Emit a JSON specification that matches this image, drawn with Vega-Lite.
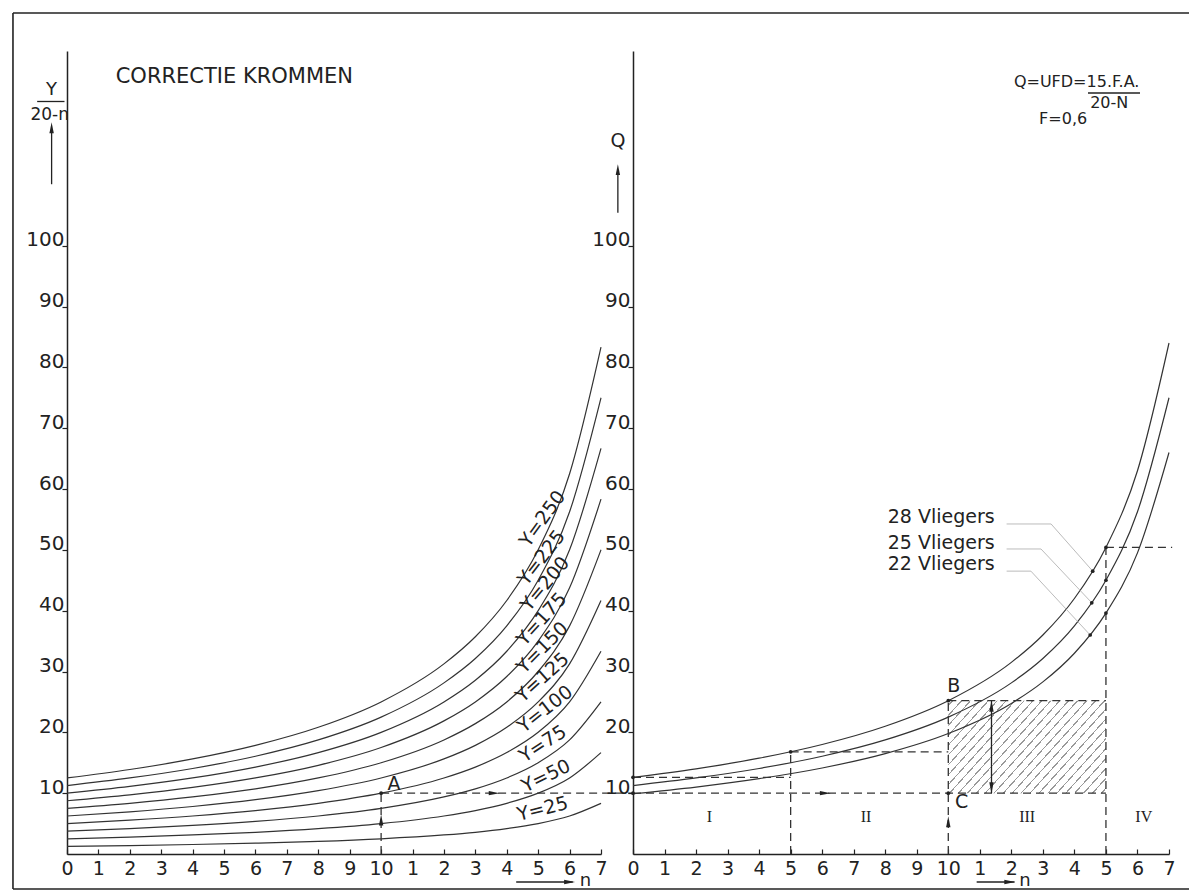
{
"$schema": "https://vega.github.io/schema/vega-lite/v6.json",
"background": "white",
"padding": {"left": 12, "top": 12, "right": 0, "bottom": 3},
"spacing": 32,
"bounds": "flush",
"config": {
  "view": {"stroke": null},
  "axis": {"grid": false, "labelFont": "DejaVu Sans", "labelColor": "#222", "domainColor": "#222", "domainWidth": 1.5, "tickColor": "#222", "tickWidth": 1.2},
  "text": {"font": "DejaVu Sans", "color": "#222"}
},
"datasets": {
  "lc": [
    {"Y":25,"n":0,"v":1.25},{"Y":25,"n":2,"v":1.39},{"Y":25,"n":4,"v":1.56},{"Y":25,"n":6,"v":1.79},{"Y":25,"n":8,"v":2.08},{"Y":25,"n":10,"v":2.5},{"Y":25,"n":12,"v":3.13},{"Y":25,"n":13,"v":3.57},{"Y":25,"n":14,"v":4.17},{"Y":25,"n":15,"v":5},{"Y":25,"n":16,"v":6.25},{"Y":25,"n":17,"v":8.33},
    {"Y":50,"n":0,"v":2.5},{"Y":50,"n":2,"v":2.78},{"Y":50,"n":4,"v":3.13},{"Y":50,"n":6,"v":3.57},{"Y":50,"n":8,"v":4.17},{"Y":50,"n":10,"v":5},{"Y":50,"n":12,"v":6.25},{"Y":50,"n":13,"v":7.14},{"Y":50,"n":14,"v":8.33},{"Y":50,"n":15,"v":10},{"Y":50,"n":16,"v":12.5},{"Y":50,"n":17,"v":16.67},
    {"Y":75,"n":0,"v":3.75},{"Y":75,"n":2,"v":4.17},{"Y":75,"n":4,"v":4.69},{"Y":75,"n":6,"v":5.36},{"Y":75,"n":8,"v":6.25},{"Y":75,"n":10,"v":7.5},{"Y":75,"n":12,"v":9.38},{"Y":75,"n":13,"v":10.71},{"Y":75,"n":14,"v":12.5},{"Y":75,"n":15,"v":15},{"Y":75,"n":16,"v":18.75},{"Y":75,"n":17,"v":25},
    {"Y":100,"n":0,"v":5},{"Y":100,"n":2,"v":5.56},{"Y":100,"n":4,"v":6.25},{"Y":100,"n":6,"v":7.14},{"Y":100,"n":8,"v":8.33},{"Y":100,"n":10,"v":10},{"Y":100,"n":12,"v":12.5},{"Y":100,"n":13,"v":14.29},{"Y":100,"n":14,"v":16.67},{"Y":100,"n":15,"v":20},{"Y":100,"n":16,"v":25},{"Y":100,"n":17,"v":33.33},
    {"Y":125,"n":0,"v":6.25},{"Y":125,"n":2,"v":6.94},{"Y":125,"n":4,"v":7.81},{"Y":125,"n":6,"v":8.93},{"Y":125,"n":8,"v":10.42},{"Y":125,"n":10,"v":12.5},{"Y":125,"n":12,"v":15.63},{"Y":125,"n":13,"v":17.86},{"Y":125,"n":14,"v":20.83},{"Y":125,"n":15,"v":25},{"Y":125,"n":16,"v":31.25},{"Y":125,"n":17,"v":41.67},
    {"Y":150,"n":0,"v":7.5},{"Y":150,"n":2,"v":8.33},{"Y":150,"n":4,"v":9.38},{"Y":150,"n":6,"v":10.71},{"Y":150,"n":8,"v":12.5},{"Y":150,"n":10,"v":15},{"Y":150,"n":12,"v":18.75},{"Y":150,"n":13,"v":21.43},{"Y":150,"n":14,"v":25},{"Y":150,"n":15,"v":30},{"Y":150,"n":16,"v":37.5},{"Y":150,"n":17,"v":50},
    {"Y":175,"n":0,"v":8.75},{"Y":175,"n":2,"v":9.72},{"Y":175,"n":4,"v":10.94},{"Y":175,"n":6,"v":12.5},{"Y":175,"n":8,"v":14.58},{"Y":175,"n":10,"v":17.5},{"Y":175,"n":12,"v":21.88},{"Y":175,"n":13,"v":25},{"Y":175,"n":14,"v":29.17},{"Y":175,"n":15,"v":35},{"Y":175,"n":16,"v":43.75},{"Y":175,"n":17,"v":58.33},
    {"Y":200,"n":0,"v":10},{"Y":200,"n":2,"v":11.11},{"Y":200,"n":4,"v":12.5},{"Y":200,"n":6,"v":14.29},{"Y":200,"n":8,"v":16.67},{"Y":200,"n":10,"v":20},{"Y":200,"n":12,"v":25},{"Y":200,"n":13,"v":28.57},{"Y":200,"n":14,"v":33.33},{"Y":200,"n":15,"v":40},{"Y":200,"n":16,"v":50},{"Y":200,"n":17,"v":66.67},
    {"Y":225,"n":0,"v":11.25},{"Y":225,"n":2,"v":12.5},{"Y":225,"n":4,"v":14.06},{"Y":225,"n":6,"v":16.07},{"Y":225,"n":8,"v":18.75},{"Y":225,"n":10,"v":22.5},{"Y":225,"n":12,"v":28.13},{"Y":225,"n":13,"v":32.14},{"Y":225,"n":14,"v":37.5},{"Y":225,"n":15,"v":45},{"Y":225,"n":16,"v":56.25},{"Y":225,"n":17,"v":75},
    {"Y":250,"n":0,"v":12.5},{"Y":250,"n":2,"v":13.89},{"Y":250,"n":4,"v":15.63},{"Y":250,"n":6,"v":17.86},{"Y":250,"n":8,"v":20.83},{"Y":250,"n":10,"v":25},{"Y":250,"n":12,"v":31.25},{"Y":250,"n":13,"v":35.71},{"Y":250,"n":14,"v":41.67},{"Y":250,"n":15,"v":50},{"Y":250,"n":16,"v":62.5},{"Y":250,"n":17,"v":83.33}
  ],
  "rc": [
    {"A":28,"n":0,"v":12.6},{"A":28,"n":2,"v":14},{"A":28,"n":4,"v":15.75},{"A":28,"n":6,"v":18},{"A":28,"n":8,"v":21},{"A":28,"n":10,"v":25.2},{"A":28,"n":12,"v":31.5},{"A":28,"n":13,"v":36},{"A":28,"n":14,"v":42},{"A":28,"n":15,"v":50.4},{"A":28,"n":16,"v":63},{"A":28,"n":17,"v":84},
    {"A":25,"n":0,"v":11.25},{"A":25,"n":2,"v":12.5},{"A":25,"n":4,"v":14.06},{"A":25,"n":6,"v":16.07},{"A":25,"n":8,"v":18.75},{"A":25,"n":10,"v":22.5},{"A":25,"n":12,"v":28.13},{"A":25,"n":13,"v":32.14},{"A":25,"n":14,"v":37.5},{"A":25,"n":15,"v":45},{"A":25,"n":16,"v":56.25},{"A":25,"n":17,"v":75},
    {"A":22,"n":0,"v":9.9},{"A":22,"n":2,"v":11},{"A":22,"n":4,"v":12.38},{"A":22,"n":6,"v":14.14},{"A":22,"n":8,"v":16.5},{"A":22,"n":10,"v":19.8},{"A":22,"n":12,"v":24.75},{"A":22,"n":13,"v":28.29},{"A":22,"n":14,"v":33},{"A":22,"n":15,"v":39.6},{"A":22,"n":16,"v":49.5},{"A":22,"n":17,"v":66}
  ],
  "frame": [
    {"n":-1.72,"v":138.25,"n2":35.75,"v2":138.25},
    {"n":-1.72,"v":-5.75,"n2":-1.72,"v2":138.25},
    {"n":-1.72,"v":-5.75,"n2":35.75,"v2":-5.75}
  ],
  "ldash": [
    {"n":10,"v":0,"n2":10,"v2":10},
    {"n":10,"v":10,"n2":18.02,"v2":10}
  ],
  "rdash": [
    {"n":0,"v":10,"n2":15,"v2":10},
    {"n":0,"v":12.6,"n2":5,"v2":12.6},
    {"n":5,"v":0,"n2":5,"v2":16.8},
    {"n":5,"v":16.8,"n2":10,"v2":16.8},
    {"n":10,"v":0,"n2":10,"v2":25.2},
    {"n":10,"v":25.2,"n2":15,"v2":25.2},
    {"n":15,"v":0,"n2":15,"v2":50.4},
    {"n":15,"v":50.4,"n2":17.1,"v2":50.4}
  ],
  "lsolid": [
    {"n":14.3,"v":-4.6,"n2":16.1,"v2":-4.6},
    {"n":-0.49,"v":110.1,"n2":-0.49,"v2":119},
    {"n":-0.95,"v":123.7,"n2":-0.08,"v2":123.7}
  ],
  "rsolid": [
    {"n":10.9,"v":-4.6,"n2":12.1,"v2":-4.6},
    {"n":-0.48,"v":105.4,"n2":-0.48,"v2":112.5},
    {"n":11.37,"v":10,"n2":11.37,"v2":25.2},
    {"n":14.43,"v":125.1,"n2":16.08,"v2":125.1}
  ],
  "rfaint": [
    {"n":11.85,"v":54.25,"n2":13.26,"v2":54.25},
    {"n":13.26,"v":54.25,"n2":14.58,"v2":46.5},
    {"n":11.85,"v":50.14,"n2":12.94,"v2":50.14},
    {"n":12.94,"v":50.14,"n2":14.55,"v2":41.3},
    {"n":11.85,"v":46.5,"n2":12.62,"v2":46.5},
    {"n":12.62,"v":46.5,"n2":14.5,"v2":36}
  ],
  "rhatch": [{"n":10,"v":10,"n2":15,"v2":25.2}],
  "larrow": [
    {"n":13.6,"v":10,"dir":"right"},
    {"n":10,"v":5.6,"dir":"up"},
    {"n":16.0,"v":-4.6,"dir":"right"},
    {"n":-0.49,"v":119.4,"dir":"up"}
  ],
  "rarrow": [
    {"n":6.1,"v":10,"dir":"right"},
    {"n":10,"v":5.3,"dir":"up"},
    {"n":11.37,"v":24.3,"dir":"up"},
    {"n":11.37,"v":10.9,"dir":"down"},
    {"n":11.95,"v":-4.6,"dir":"right"},
    {"n":-0.48,"v":112.5,"dir":"up"}
  ],
  "ldot": [{"n":10,"v":10}],
  "rdot": [
    {"n":0,"v":10},{"n":0,"v":12.6},{"n":5,"v":16.8},{"n":10,"v":25.2},{"n":10,"v":10},{"n":15,"v":50.4},
    {"n":14.58,"v":46.5},{"n":14.55,"v":41.3},{"n":14.5,"v":36},{"n":15,"v":45},{"n":15,"v":39.6}
  ],
  "llab": [
    {"Y":250,"n":15.14,"v":55.1,"t":"Y=250"},
    {"Y":225,"n":15.11,"v":48.7,"t":"Y=225"},
    {"Y":200,"n":15.22,"v":44.4,"t":"Y=200"},
    {"Y":175,"n":15.11,"v":38.6,"t":"Y=175"},
    {"Y":150,"n":15.14,"v":33.9,"t":"Y=150"},
    {"Y":125,"n":15.14,"v":29.0,"t":"Y=125"},
    {"Y":100,"n":15.22,"v":23.8,"t":"Y=100"},
    {"Y":75,"n":15.15,"v":18.1,"t":"Y=75"},
    {"Y":50,"n":15.25,"v":12.8,"t":"Y=50"},
    {"Y":25,"n":15.14,"v":7.4,"t":"Y=25"}
  ]
},
"hconcat": [
  {
    "width": 534,
    "height": 803,
    "encoding": {
      "x": {"field": "n", "type": "quantitative", "scale": {"domain": [0, 17], "nice": false, "zero": false},
            "axis": {"title": null, "values": [0,1,2,3,4,5,6,7,8,9,10,11,12,13,14,15,16,17], "labelExpr": "datum.value > 10 ? datum.value - 10 : datum.value", "tickSize": -5, "labelPadding": 10, "labelFontSize": 19, "labelFlush": false, "labelOverlap": false}},
      "y": {"field": "v", "type": "quantitative", "scale": {"domain": [0, 132], "nice": false, "zero": false},
            "axis": {"title": null, "values": [10,20,30,40,50,60,70,80,90,100], "tickSize": 5, "labelPadding": -2, "labelFontSize": 20, "labelBaseline": "alphabetic"}}
    },
    "layer": [
      {"data": {"name": "frame"}, "mark": {"type": "rule", "stroke": "#222", "strokeWidth": 1.6},
       "encoding": {"x2": {"field": "n2"}, "y2": {"field": "v2"}}},
      {"data": {"name": "lc"}, "mark": {"type": "line", "interpolate": "monotone", "stroke": "#333", "strokeWidth": 1.2},
       "encoding": {"detail": {"field": "Y"}}},
      {"data": {"name": "ldash"}, "mark": {"type": "rule", "stroke": "#333", "strokeWidth": 1.3, "strokeDash": [8, 5]},
       "encoding": {"x2": {"field": "n2"}, "y2": {"field": "v2"}}},
      {"data": {"name": "lsolid"}, "mark": {"type": "rule", "stroke": "#222", "strokeWidth": 1.3},
       "encoding": {"x2": {"field": "n2"}, "y2": {"field": "v2"}}},
      {"data": {"name": "larrow"}, "mark": {"type": "point", "filled": true, "color": "#222", "size": 120, "opacity": 1},
       "encoding": {"shape": {"field": "dir", "type": "nominal", "legend": null,
         "scale": {"domain": ["up", "down", "right"], "range": ["M0,-1L0.4,1L-0.4,1Z", "M0,1L0.4,-1L-0.4,-1Z", "M1,0L-1,0.4L-1,-0.4Z"]}}}},
      {"data": {"name": "ldot"}, "mark": {"type": "circle", "color": "#222", "size": 14, "opacity": 1}},
      {"data": {"name": "llab"}, "mark": {"type": "text", "fontSize": 19, "align": "center", "baseline": "middle"},
       "encoding": {"text": {"field": "t"}, "angle": {"field": "Y", "type": "quantitative", "legend": null, "scale": {"type": "log", "domain": [25, 250], "range": [-14, -54]}}}},
      {"data": {"values": [{"n": 1.55, "v": 127.7, "t": "CORRECTIE KROMMEN"}]}, "mark": {"type": "text", "fontSize": 21, "align": "left", "baseline": "middle"},
       "encoding": {"text": {"field": "t"}}},
      {"data": {"values": [{"n": 10.41, "v": 11.5, "t": "A"}]}, "mark": {"type": "text", "fontSize": 19, "align": "center", "baseline": "middle"},
       "encoding": {"text": {"field": "t"}}},
      {"data": {"values": [{"n": 16.32, "v": -5.2, "t": "n"}]}, "mark": {"type": "text", "fontSize": 18, "align": "left", "baseline": "alphabetic"},
       "encoding": {"text": {"field": "t"}}},
      {"data": {"values": [{"n": -0.49, "v": 125.6, "t": "Y"}]}, "mark": {"type": "text", "fontSize": 18, "align": "center", "baseline": "middle"},
       "encoding": {"text": {"field": "t"}}},
      {"data": {"values": [{"n": -0.55, "v": 121.5, "t": "20-n"}]}, "mark": {"type": "text", "fontSize": 17, "align": "center", "baseline": "middle"},
       "encoding": {"text": {"field": "t"}}}
    ]
  },
  {
    "width": 536,
    "height": 803,
    "encoding": {
      "x": {"field": "n", "type": "quantitative", "scale": {"domain": [0, 17], "nice": false, "zero": false},
            "axis": {"title": null, "values": [0,1,2,3,4,5,6,7,8,9,10,11,12,13,14,15,16,17], "labelExpr": "datum.value > 10 ? datum.value - 10 : datum.value", "tickSize": -5, "labelPadding": 10, "labelFontSize": 19, "labelFlush": false, "labelOverlap": false}},
      "y": {"field": "v", "type": "quantitative", "scale": {"domain": [0, 132], "nice": false, "zero": false},
            "axis": {"title": null, "values": [10,20,30,40,50,60,70,80,90,100], "tickSize": 5, "labelPadding": -2, "labelFontSize": 20, "labelBaseline": "alphabetic"}}
    },
    "layer": [
      {"data": {"name": "rhatch"}, "mark": {"type": "rect", "stroke": null,
        "fill": {"gradient": "linear", "x1": 0, "y1": 0, "x2": 1.195, "y2": 0.632, "stops": [
          {"offset": 0, "color": "white"},
          {"offset": 0.015, "color": "white"}, {"offset": 0.015, "color": "#999"}, {"offset": 0.021, "color": "#999"}, {"offset": 0.021, "color": "white"},
          {"offset": 0.052, "color": "white"}, {"offset": 0.052, "color": "#999"}, {"offset": 0.058, "color": "#999"}, {"offset": 0.058, "color": "white"},
          {"offset": 0.089, "color": "white"}, {"offset": 0.089, "color": "#999"}, {"offset": 0.095, "color": "#999"}, {"offset": 0.095, "color": "white"},
          {"offset": 0.126, "color": "white"}, {"offset": 0.126, "color": "#999"}, {"offset": 0.132, "color": "#999"}, {"offset": 0.132, "color": "white"},
          {"offset": 0.163, "color": "white"}, {"offset": 0.163, "color": "#999"}, {"offset": 0.169, "color": "#999"}, {"offset": 0.169, "color": "white"},
          {"offset": 0.200, "color": "white"}, {"offset": 0.200, "color": "#999"}, {"offset": 0.206, "color": "#999"}, {"offset": 0.206, "color": "white"},
          {"offset": 0.237, "color": "white"}, {"offset": 0.237, "color": "#999"}, {"offset": 0.243, "color": "#999"}, {"offset": 0.243, "color": "white"},
          {"offset": 0.274, "color": "white"}, {"offset": 0.274, "color": "#999"}, {"offset": 0.280, "color": "#999"}, {"offset": 0.280, "color": "white"},
          {"offset": 0.311, "color": "white"}, {"offset": 0.311, "color": "#999"}, {"offset": 0.317, "color": "#999"}, {"offset": 0.317, "color": "white"},
          {"offset": 0.348, "color": "white"}, {"offset": 0.348, "color": "#999"}, {"offset": 0.354, "color": "#999"}, {"offset": 0.354, "color": "white"},
          {"offset": 0.385, "color": "white"}, {"offset": 0.385, "color": "#999"}, {"offset": 0.391, "color": "#999"}, {"offset": 0.391, "color": "white"},
          {"offset": 0.422, "color": "white"}, {"offset": 0.422, "color": "#999"}, {"offset": 0.428, "color": "#999"}, {"offset": 0.428, "color": "white"},
          {"offset": 0.459, "color": "white"}, {"offset": 0.459, "color": "#999"}, {"offset": 0.465, "color": "#999"}, {"offset": 0.465, "color": "white"},
          {"offset": 0.496, "color": "white"}, {"offset": 0.496, "color": "#999"}, {"offset": 0.502, "color": "#999"}, {"offset": 0.502, "color": "white"},
          {"offset": 0.533, "color": "white"}, {"offset": 0.533, "color": "#999"}, {"offset": 0.539, "color": "#999"}, {"offset": 0.539, "color": "white"},
          {"offset": 0.571, "color": "white"}, {"offset": 0.571, "color": "#999"}, {"offset": 0.577, "color": "#999"}, {"offset": 0.577, "color": "white"},
          {"offset": 0.608, "color": "white"}, {"offset": 0.608, "color": "#999"}, {"offset": 0.614, "color": "#999"}, {"offset": 0.614, "color": "white"},
          {"offset": 0.645, "color": "white"}, {"offset": 0.645, "color": "#999"}, {"offset": 0.651, "color": "#999"}, {"offset": 0.651, "color": "white"},
          {"offset": 0.682, "color": "white"}, {"offset": 0.682, "color": "#999"}, {"offset": 0.688, "color": "#999"}, {"offset": 0.688, "color": "white"},
          {"offset": 0.719, "color": "white"}, {"offset": 0.719, "color": "#999"}, {"offset": 0.725, "color": "#999"}, {"offset": 0.725, "color": "white"},
          {"offset": 0.756, "color": "white"}, {"offset": 0.756, "color": "#999"}, {"offset": 0.762, "color": "#999"}, {"offset": 0.762, "color": "white"},
          {"offset": 0.793, "color": "white"}, {"offset": 0.793, "color": "#999"}, {"offset": 0.799, "color": "#999"}, {"offset": 0.799, "color": "white"},
          {"offset": 0.830, "color": "white"}, {"offset": 0.830, "color": "#999"}, {"offset": 0.836, "color": "#999"}, {"offset": 0.836, "color": "white"},
          {"offset": 0.867, "color": "white"}, {"offset": 0.867, "color": "#999"}, {"offset": 0.873, "color": "#999"}, {"offset": 0.873, "color": "white"},
          {"offset": 0.904, "color": "white"}, {"offset": 0.904, "color": "#999"}, {"offset": 0.910, "color": "#999"}, {"offset": 0.910, "color": "white"},
          {"offset": 0.941, "color": "white"}, {"offset": 0.941, "color": "#999"}, {"offset": 0.947, "color": "#999"}, {"offset": 0.947, "color": "white"},
          {"offset": 0.978, "color": "white"}, {"offset": 0.978, "color": "#999"}, {"offset": 0.984, "color": "#999"}, {"offset": 0.984, "color": "white"},
          {"offset": 1, "color": "white"}
        ]}},
       "encoding": {"x2": {"field": "n2"}, "y2": {"field": "v2"}}},
      {"data": {"name": "rc"}, "mark": {"type": "line", "interpolate": "monotone", "stroke": "#333", "strokeWidth": 1.2},
       "encoding": {"detail": {"field": "A"}}},
      {"data": {"name": "rdash"}, "mark": {"type": "rule", "stroke": "#333", "strokeWidth": 1.3, "strokeDash": [8, 5]},
       "encoding": {"x2": {"field": "n2"}, "y2": {"field": "v2"}}},
      {"data": {"name": "rfaint"}, "mark": {"type": "rule", "stroke": "#aaa", "strokeWidth": 0.8},
       "encoding": {"x2": {"field": "n2"}, "y2": {"field": "v2"}}},
      {"data": {"name": "rsolid"}, "mark": {"type": "rule", "stroke": "#222", "strokeWidth": 1.3},
       "encoding": {"x2": {"field": "n2"}, "y2": {"field": "v2"}}},
      {"data": {"name": "rarrow"}, "mark": {"type": "point", "filled": true, "color": "#222", "size": 120, "opacity": 1},
       "encoding": {"shape": {"field": "dir", "type": "nominal", "legend": null,
         "scale": {"domain": ["up", "down", "right"], "range": ["M0,-1L0.4,1L-0.4,1Z", "M0,1L0.4,-1L-0.4,-1Z", "M1,0L-1,0.4L-1,-0.4Z"]}}}},
      {"data": {"name": "rdot"}, "mark": {"type": "circle", "color": "#222", "size": 14, "opacity": 1}},
      {"data": {"values": [{"n": 8.08, "v": 55.4, "t": "28 Vliegers"}, {"n": 8.08, "v": 51.2, "t": "25 Vliegers"}, {"n": 8.08, "v": 47.6, "t": "22 Vliegers"}]},
       "mark": {"type": "text", "fontSize": 19, "align": "left", "baseline": "middle"},
       "encoding": {"text": {"field": "t"}}},
      {"data": {"values": [{"n": 10.17, "v": 27.6, "t": "B"}, {"n": 10.42, "v": 8.6, "t": "C"}, {"n": -0.48, "v": 117.2, "t": "Q"}]},
       "mark": {"type": "text", "fontSize": 19, "align": "center", "baseline": "middle"},
       "encoding": {"text": {"field": "t"}}},
      {"data": {"values": [{"n": 12.25, "v": -5.2, "t": "n"}]}, "mark": {"type": "text", "fontSize": 18, "align": "left", "baseline": "alphabetic"},
       "encoding": {"text": {"field": "t"}}},
      {"data": {"values": [{"n": 12.08, "v": 126.9, "t": "Q=UFD=15.F.A."}, {"n": 14.5, "v": 123.4, "t": "20-N"}, {"n": 12.88, "v": 120.9, "t": "F=0,6"}]},
       "mark": {"type": "text", "fontSize": 16, "align": "left", "baseline": "middle"},
       "encoding": {"text": {"field": "t"}}},
      {"data": {"values": [{"n": 2.42, "v": 6.1, "t": "I"}, {"n": 7.39, "v": 6.1, "t": "II"}, {"n": 12.5, "v": 6.1, "t": "III"}, {"n": 16.2, "v": 6.1, "t": "IV"}]},
       "mark": {"type": "text", "font": "Liberation Serif", "fontSize": 16, "align": "center", "baseline": "middle"},
       "encoding": {"text": {"field": "t"}}}
    ]
  }
]
}
